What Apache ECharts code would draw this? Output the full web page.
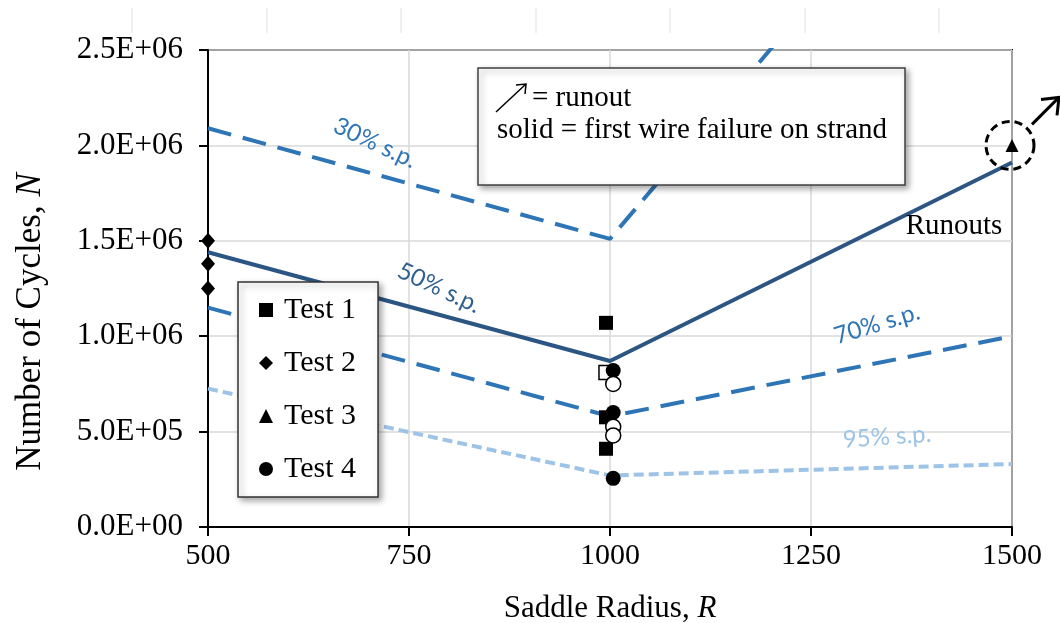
<!DOCTYPE html>
<html>
<head>
<meta charset="utf-8">
<script src="https://cdn.jsdelivr.net/npm/echarts@6/dist/echarts.min.js"></script>
<style>
  html, body { margin: 0; padding: 0; background: #fff; }
  #chart { width: 1060px; height: 623px; }
</style>
</head>
<body>
<div id="chart"></div>
<script>
// stress-level curves (x = saddle radius)
const radiusX = [500, 1000, 1500]
const sp30 = [2.09e6, 1.51e6, 4.0e6]
const sp50 = [1.44e6, 0.87e6, 1.91e6]
const sp70 = [1.15e6, 0.58e6, 1.0e6]
const sp95 = [0.725e6, 0.27e6, 0.33e6]

// test results
const test1R = 995
const test1N = [1.07e6, 0.81e6, 0.575e6, 0.41e6]
const test1Solid = [true, false, true, true]
const test2R = 500
const test2N = [1.50e6, 1.38e6, 1.25e6]
const test3R = 1500
const test3N = [2.0e6]
const test4R = 1004
const test4N = [0.82e6, 0.75e6, 0.60e6, 0.525e6, 0.48e6, 0.255e6]
const test4Solid = [true, false, true, false, false, true]

const xTicks = [500, 750, 1000, 1250, 1500]
const yTicks = [0, 5e5, 1e6, 1.5e6, 2e6, 2.5e6]

const serif = 'Liberation Serif'
const sans = 'Lato'

function sci(v) {
  if (v === 0) return '0.0E+00'
  const exp = Math.floor(Math.log10(v) + 1e-9)
  const mant = v / Math.pow(10, exp)
  return mant.toFixed(1) + 'E+' + String(exp).padStart(2, '0')
}

function pts(r, arr, solid) {
  return arr.map((n, i) => {
    const item = { value: [r, n] }
    if (solid && !solid[i]) {
      item.itemStyle = { color: '#fff', borderColor: '#000', borderWidth: 1.5 }
    }
    return item
  })
}

function curve(vals) {
  return radiusX.map((r, i) => [r, vals[i]])
}

const chart = echarts.init(document.getElementById('chart'), null, { renderer: 'canvas' })

const markStyle = { color: '#000', opacity: 1 }

const option = {
  backgroundColor: '#fff',
  animation: false,
  grid: {
    left: 208, right: 48, top: 50, bottom: 96,
    outerBoundsMode: 'none',
    containLabel: false,
    show: true, borderColor: '#000', borderWidth: 2, backgroundColor: 'transparent'
  },
  legend: {
    orient: 'vertical',
    left: 238, top: 282,
    padding: [13, 22, 13, 21],
    itemGap: 23,
    itemWidth: 14, itemHeight: 14,
    backgroundColor: '#fff',
    borderColor: '#333', borderWidth: 1.5,
    shadowBlur: 6, shadowColor: 'rgba(0,0,0,0.35)', shadowOffsetX: 3, shadowOffsetY: 3,
    textStyle: { fontFamily: serif, fontSize: 30, color: '#000', padding: [0, 0, 0, 6] },
    data: [
      { name: 'Test 1', icon: 'rect' },
      { name: 'Test 2', icon: 'diamond' },
      { name: 'Test 3', icon: 'triangle' },
      { name: 'Test 4', icon: 'circle' }
    ]
  },
  xAxis: {
    type: 'value',
    min: 500, max: 1500, interval: 250,
    name: 'Saddle Radius, {i|R}',
    nameLocation: 'middle',
    nameGap: 66,
    nameTextStyle: {
      fontFamily: serif, fontSize: 31, color: '#000', verticalAlign: 'top',
      rich: { i: { fontFamily: serif, fontSize: 31, fontStyle: 'italic', color: '#000' } }
    },
    axisLine: { show: true, onZero: false, lineStyle: { color: '#000', width: 2 } },
    axisTick: { show: true, length: 9, lineStyle: { color: '#000', width: 2 } },
    axisLabel: {
      fontFamily: serif, fontSize: 30, color: '#000', margin: 14,
      formatter: v => (xTicks.includes(v) ? String(v) : '')
    },
    splitLine: { show: true, lineStyle: { color: '#D9D9D9', width: 1.5 } }
  },
  yAxis: {
    type: 'value',
    min: 0, max: 2.5e6, interval: 5e5,
    axisLine: { show: true, onZero: false, lineStyle: { color: '#000', width: 2 } },
    axisTick: { show: true, length: 9, lineStyle: { color: '#000', width: 2 } },
    axisLabel: {
      fontFamily: serif, fontSize: 31, color: '#000', margin: 25,
      formatter: v => (yTicks.includes(v) ? sci(v) : '')
    },
    splitLine: { show: true, lineStyle: { color: '#D9D9D9', width: 1.5 } }
  },
  series: [
    {
      name: '30% s.p.', type: 'line', data: curve(sp30), symbol: 'none', clip: true,
      lineStyle: { color: '#2E75B6', width: 4, type: [24, 12] }, z: 2
    },
    {
      name: '50% s.p.', type: 'line', data: curve(sp50), symbol: 'none', clip: true,
      lineStyle: { color: '#2B5683', width: 4 }, z: 2
    },
    {
      name: '70% s.p.', type: 'line', data: curve(sp70), symbol: 'none', clip: true,
      lineStyle: { color: '#2E75B6', width: 4, type: [24, 12] }, z: 2
    },
    {
      name: '95% s.p.', type: 'line', data: curve(sp95), symbol: 'none', clip: true,
      lineStyle: { color: '#9DC3E6', width: 4, type: [10, 5] }, z: 2
    },
    {
      name: 'Test 1', type: 'scatter', symbol: 'rect', symbolSize: 14, clip: false,
      itemStyle: markStyle, data: pts(test1R, test1N, test1Solid), z: 3
    },
    {
      name: 'Test 2', type: 'scatter', symbol: 'diamond', symbolSize: [14, 16], clip: false,
      itemStyle: markStyle, data: pts(test2R, test2N), z: 3
    },
    {
      name: 'Test 3', type: 'scatter', symbol: 'triangle', symbolSize: [13, 13], clip: false,
      itemStyle: markStyle, data: pts(test3R, test3N), z: 3
    },
    {
      name: 'Test 4', type: 'scatter', symbol: 'circle', symbolSize: 15, clip: false,
      itemStyle: markStyle, data: pts(test4R, test4N, test4Solid), z: 4
    }
  ]
}

chart.setOption(option)

// annotations
const runout = chart.convertToPixel({ xAxisIndex: 0, yAxisIndex: 0 }, [test3R, test3N[0]])
const cx = runout[0], cy = runout[1]

const faint = [132, 267, 401, 536, 670, 805, 939].map(x => ({
  type: 'line', z: 1, silent: true,
  shape: { x1: x, y1: 8, x2: x, y2: 33 },
  style: { stroke: '#E6E6E6', lineWidth: 1.2 }
}))

const labelTxt = (text, x, y, deg, color, font, size) => ({
  type: 'text', z: 50, x: x, y: y, rotation: deg * Math.PI / 180,
  style: {
    text: text, fill: color, font: size + 'px ' + font,
    align: 'center', verticalAlign: 'middle'
  }
})

chart.setOption({
  graphic: [
    ...faint,
    // y axis title (N in italics)
    {
      type: 'text', z: 50, x: 31, y: 322, rotation: Math.PI / 2,
      style: {
        text: 'Number of Cycles, {i|N}', fill: '#000', font: '35px ' + serif,
        align: 'center', verticalAlign: 'middle',
        rich: { i: { fontStyle: 'italic', fontSize: 35, fontFamily: serif, fill: '#000' } }
      }
    },
    labelTxt('30% s.p.', 375, 143, -25, '#2E75B6', sans, 24),
    labelTxt('50% s.p.', 439, 288, -25, '#2E5F8E', sans, 24),
    labelTxt('70% s.p.', 877, 324, 17, '#2E75B6', sans, 24),
    labelTxt('95% s.p.', 887, 437, 4, '#9DC3E6', sans, 24),
    labelTxt('Runouts', 954, 226, 0, '#000', serif, 29),
    // runout circle + arrow
    {
      type: 'circle', z: 60, shape: { cx: cx - 2, cy: cy, r: 24 },
      style: { fill: 'none', stroke: '#000', lineWidth: 3, lineDash: [8, 5] }
    },
    {
      type: 'line', z: 60, shape: { x1: cx + 20, y1: cy - 21, x2: cx + 47, y2: cy - 48 },
      style: { stroke: '#000', lineWidth: 3 }
    },
    {
      type: 'polyline', z: 60,
      shape: { points: [[cx + 29, cy - 46], [cx + 47, cy - 48], [cx + 45, cy - 30]] },
      style: { stroke: '#000', lineWidth: 3, fill: 'none' }
    },
    // note box
    {
      type: 'rect', z: 70, shape: { x: 478, y: 68, width: 427, height: 117 },
      style: {
        fill: '#fff', stroke: '#404040', lineWidth: 1.5,
        shadowBlur: 6, shadowColor: 'rgba(0,0,0,0.35)', shadowOffsetX: 3, shadowOffsetY: 3
      }
    },
    {
      type: 'line', z: 71, shape: { x1: 496, y1: 112, x2: 526, y2: 84 },
      style: { stroke: '#000', lineWidth: 1.5 }
    },
    {
      type: 'polyline', z: 71, shape: { points: [[516, 85], [526, 84], [525, 94]] },
      style: { stroke: '#000', lineWidth: 1.5, fill: 'none' }
    },
    {
      type: 'text', z: 71, x: 532, y: 98,
      style: { text: '= runout', font: '29px ' + serif, fill: '#000', verticalAlign: 'middle' }
    },
    {
      type: 'text', z: 71, x: 497, y: 130,
      style: { text: 'solid = first wire failure on strand', font: '29px ' + serif, fill: '#000', verticalAlign: 'middle' }
    }
  ]
})

window.addEventListener('resize', () => chart.resize())
</script>
</body>
</html>
